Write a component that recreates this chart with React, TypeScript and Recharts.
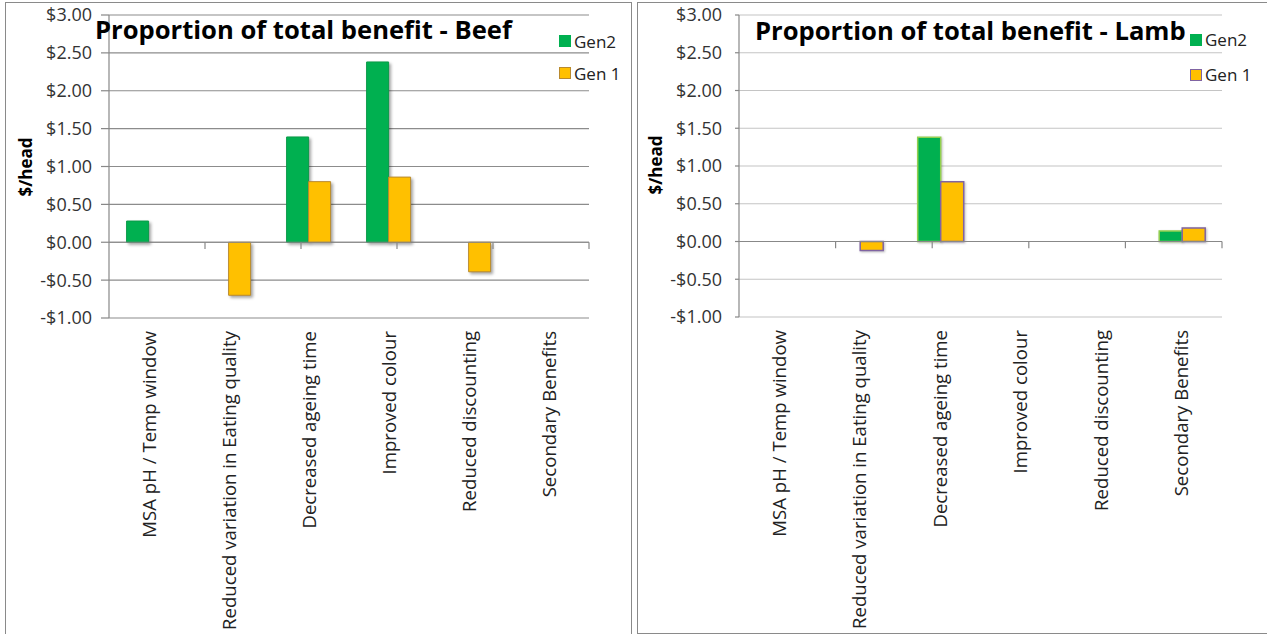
import React from 'react';
import { BarChart, Bar, XAxis, YAxis, CartesianGrid, ReferenceLine, Legend, Rectangle } from 'recharts';

const categories = [
  'MSA pH / Temp window',
  'Reduced variation in Eating quality',
  'Decreased ageing time',
  'Improved colour',
  'Reduced discounting',
  'Secondary Benefits',
];
const beefGen2: (number | null)[] = [0.28, null, 1.39, 2.38, null, null];
const beefGen1: (number | null)[] = [null, -0.7, 0.8, 0.86, -0.39, null];
const lambGen2: (number | null)[] = [null, null, 1.38, null, null, 0.14];
const lambGen1: (number | null)[] = [null, -0.12, 0.79, null, null, 0.18];
const yTicks = [-1, -0.5, 0, 0.5, 1, 1.5, 2, 2.5, 3];
const boundaries = [1, 2, 3, 4, 5, 6];
const seriesNames = ['Gen2', 'Gen 1'];
const titles = ['Proportion of total benefit - Beef', 'Proportion of total benefit - Lamb'];
const yLabel = '$/head';

const FONT = '"Open Sans", sans-serif';
const GREEN = '#00B050';
const YELLOW = '#FFC000';

const beefData = categories.map((name, i) => ({ name, gen2: beefGen2[i], gen1: beefGen1[i] }));
const lambData = categories.map((name, i) => ({ name, gen2: lambGen2[i], gen1: lambGen1[i] }));

const fmt = (v: number) => (v < 0 ? `-$${Math.abs(v).toFixed(2)}` : `$${v.toFixed(2)}`);

const CatTick = (props: any) => {
  const { x, y, payload } = props;
  return (
    <text
      x={x}
      y={y}
      transform={`rotate(-90, ${x}, ${y})`}
      textAnchor="end"
      dy="0.35em"
      fontFamily={FONT}
      fontSize={18.6}
      fill="#222"
    >
      {payload.value}
    </text>
  );
};

const makeLegend = (items: { label: string; fill: string; stroke: string }[], rowH: number) => () => (
  <div style={{ fontFamily: FONT, fontSize: 17, color: '#222' }}>
    {items.map((it) => (
      <div key={it.label} style={{ display: 'flex', alignItems: 'center', height: rowH, whiteSpace: 'nowrap' }}>
        <span
          style={{
            display: 'inline-block',
            width: 10,
            height: 10,
            background: it.fill,
            border: `1px solid ${it.stroke}`,
            marginRight: 3,
          }}
        />
        {it.label}
      </div>
    ))}
  </div>
);

const shadowShape = (stroke: string, shadow: boolean) => (props: any) => (
  <Rectangle
    {...props}
    stroke={stroke}
    strokeWidth={shadow ? 1 : 1.5}
    style={shadow ? { filter: 'drop-shadow(2px 2px 1.5px rgba(0,0,0,0.35))' } : { filter: 'drop-shadow(1px 1px 1px rgba(0,0,0,0.25))' }}
  />
);

type PanelProps = {
  data: any[];
  left: number;
  width: number;
  marginLeft: number;
  xHeight: number;
  tickSize: number;
  gridColor: string;
  gen2Stroke: string;
  gen1Stroke: string;
  shadow: boolean;
  legendTop: number;
  legendLeft: number;
  legendRow: number;
};

const Panel = (p: PanelProps) => (
  <div style={{ position: 'absolute', left: p.left, top: 0 }}>
    <BarChart
      width={p.width}
      height={634}
      data={p.data}
      margin={{ top: 15, right: 45, left: p.marginLeft, bottom: 0 }}
      barCategoryGap="22%"
      barGap={0}
    >
      <CartesianGrid vertical={false} stroke={p.gridColor} strokeWidth={1.2} />
      <XAxis
        dataKey="name"
        interval={0}
        height={p.xHeight}
        axisLine={false}
        tickLine={false}
        tickSize={0}
        tickMargin={13}
        tick={<CatTick />}
      />
      <XAxis xAxisId="b" type="number" domain={[0, 6]} allowDataOverflow hide />
      <YAxis
        type="number"
        domain={[-1, 3]}
        ticks={yTicks}
        interval={0}
        width={80}
        tickFormatter={fmt}
        tickSize={p.tickSize}
        tickMargin={17 - p.tickSize}
        axisLine={{ stroke: '#888', strokeWidth: 1.2 }}
        tickLine={{ stroke: '#888', strokeWidth: 1.2 }}
        tick={{ fontFamily: FONT, fontSize: 18, fill: '#333' }}
      />
      <ReferenceLine y={0} stroke="#888" strokeWidth={1.2} />
      {boundaries.map((b) => (
        <ReferenceLine
          key={b}
          xAxisId="b"
          segment={[
            { x: b, y: 0 },
            { x: b, y: -0.09 },
          ]}
          stroke="#888"
          strokeWidth={1.2}
          ifOverflow="visible"
        />
      ))}
      <Bar dataKey="gen2" name={seriesNames[0]} fill={GREEN} isAnimationActive={false} shape={shadowShape(p.gen2Stroke, p.shadow)} />
      <Bar dataKey="gen1" name={seriesNames[1]} fill={YELLOW} isAnimationActive={false} shape={shadowShape(p.gen1Stroke, p.shadow)} />
      <Legend
        layout="horizontal"
        align="center"
        verticalAlign="middle"
        wrapperStyle={{ top: p.legendTop, left: p.legendLeft, width: 'auto', height: 'auto' }}
        content={makeLegend(
          [
            { label: seriesNames[0], fill: GREEN, stroke: GREEN },
            { label: seriesNames[1], fill: YELLOW, stroke: p.gen1Stroke },
          ],
          p.legendRow
        )}
      />
    </BarChart>
  </div>
);

export default function App() {
  return (
    <div style={{ position: 'absolute', left: 0, top: 0, width: 1267, height: 634, background: '#fff', overflow: 'hidden' }}>
      <div style={{ position: 'absolute', left: 5, top: 2, width: 627, height: 650, border: '1.5px solid #8a8a8a', boxSizing: 'border-box' }} />
      <div style={{ position: 'absolute', left: 637, top: 2, width: 640, height: 632, border: '1.5px solid #8a8a8a', boxSizing: 'border-box' }} />
      <Panel
        data={beefData}
        left={0}
        width={634}
        marginLeft={29}
        xHeight={316}
        tickSize={8}
        gridColor="#8c8c8c"
        gen2Stroke="#0a9a48"
        gen1Stroke="#b98a2e"
        shadow={true}
        legendTop={25}
        legendLeft={559}
        legendRow={32}
      />
      <Panel
        data={lambData}
        left={634}
        width={633}
        marginLeft={25}
        xHeight={317}
        tickSize={4}
        gridColor="#c4c4c4"
        gen2Stroke="#92D050"
        gen1Stroke="#8064A2"
        shadow={false}
        legendTop={22}
        legendLeft={556}
        legendRow={35}
      />
      <svg width={1267} height={634} style={{ position: 'absolute', left: 0, top: 0, pointerEvents: 'none' }}>
        <text x={95} y={39} fontFamily={FONT} fontWeight={700} fontSize={25.6} fill="#000">{titles[0]}</text>
        <text x={755} y={40} fontFamily={FONT} fontWeight={700} fontSize={25.6} fill="#000">{titles[1]}</text>
        <text x={32} y={167} transform="rotate(-90, 32, 167)" textAnchor="middle" fontFamily={FONT} fontWeight={700} fontSize={17} fill="#000">{yLabel}</text>
        <text x={662} y={165} transform="rotate(-90, 662, 165)" textAnchor="middle" fontFamily={FONT} fontWeight={700} fontSize={17} fill="#000">{yLabel}</text>
      </svg>
    </div>
  );
}
